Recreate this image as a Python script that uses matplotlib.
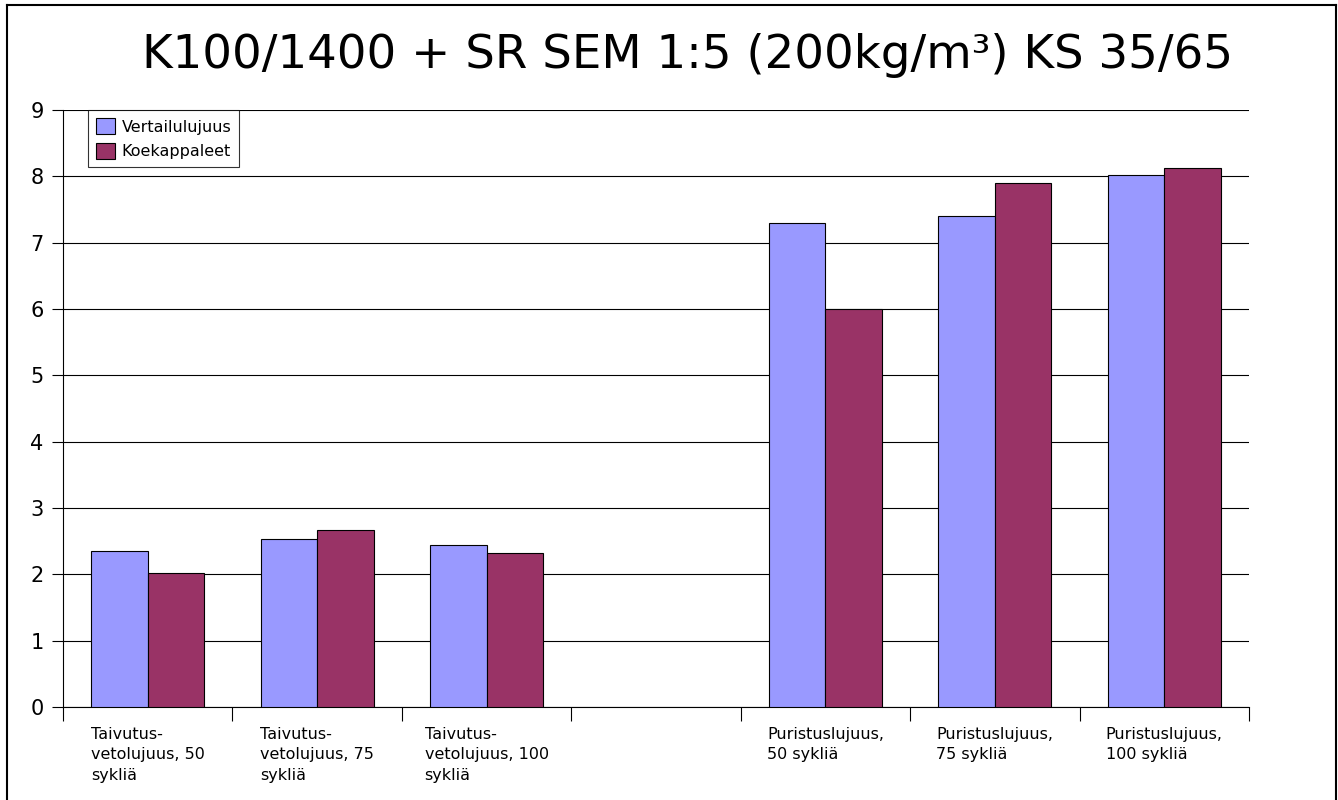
import matplotlib.pyplot as plt
import numpy as np
from matplotlib.lines import Line2D

# Data
categories = [
    "Taivutus-\nvetolujuus, 50\nsykliä",
    "Taivutus-\nvetolujuus, 75\nsykliä",
    "Taivutus-\nvetolujuus, 100\nsykliä",
    "",
    "Puristuslujuus,\n50 sykliä",
    "Puristuslujuus,\n75 sykliä",
    "Puristuslujuus,\n100 sykliä",
]
vertailulujuus = [2.35, 2.53, 2.44, np.nan, 7.30, 7.40, 8.02]
koekappaleet = [2.02, 2.67, 2.32, np.nan, 6.00, 7.90, 8.13]

plt.rcParams["font.family"] = ["DejaVu Sans"]

fig = plt.figure(figsize=(13.38, 8), dpi=100)
ax = fig.add_axes([63 / 1338, 1 - 707 / 800, (1249 - 63) / 1338, (707 - 110) / 800])

x = np.arange(len(categories))
w = 1 / 3
ax.bar(x - w / 2, vertailulujuus, w, color="#9999FF", edgecolor="black", linewidth=0.8,
       label="Vertailulujuus", zorder=3)
ax.bar(x + w / 2, koekappaleet, w, color="#993366", edgecolor="black", linewidth=0.8,
       label="Koekappaleet", zorder=3)

ax.set_xlim(-0.5, len(categories) - 0.5)
ax.set_ylim(0, 9)
ax.set_yticks(range(0, 10))
ax.yaxis.grid(True, color="black", linewidth=0.8, zorder=0)
ax.tick_params(axis="y", labelsize=15, length=8, width=0.8, pad=6)

# x ticks at category boundaries, labels below
ax.set_xticks(np.arange(-0.5, len(categories), 1))
ax.set_xticklabels([])
ax.tick_params(axis="x", length=10, width=0.8)
for i, lab in enumerate(categories):
    ax.text(i, -0.3, lab, ha="center", va="top", multialignment="left",
            fontsize=11.5, linespacing=1.45, transform=ax.transData)

for s in ["top", "right"]:
    ax.spines[s].set_visible(False)
ax.spines["left"].set_linewidth(0.8)
ax.spines["bottom"].set_linewidth(0.8)

leg = ax.legend(loc="upper left", bbox_to_anchor=(25 / 1186, 1.0), fontsize=11.5,
                frameon=True, fancybox=False, borderpad=0.5, handlelength=1.2,
                handleheight=1.2, handletextpad=0.4, labelspacing=0.5, borderaxespad=0)
leg.get_frame().set_edgecolor("black")
leg.get_frame().set_linewidth(0.8)

fig.text(688 / 1338, 1 - 55 / 800, "K100/1400 + SR SEM 1:5 (200kg/m³) KS 35/65",
         ha="center", va="center", fontsize=33.6)

# border around the chart area
for xs, ys in [([7, 1336], [5, 5]), ([7, 7], [5, 800]), ([1336, 1336], [5, 800])]:
    fig.add_artist(Line2D([v / 1338 for v in xs], [1 - v / 800 for v in ys],
                          color="black", linewidth=1.5))

fig.savefig("out.png", dpi=100)
